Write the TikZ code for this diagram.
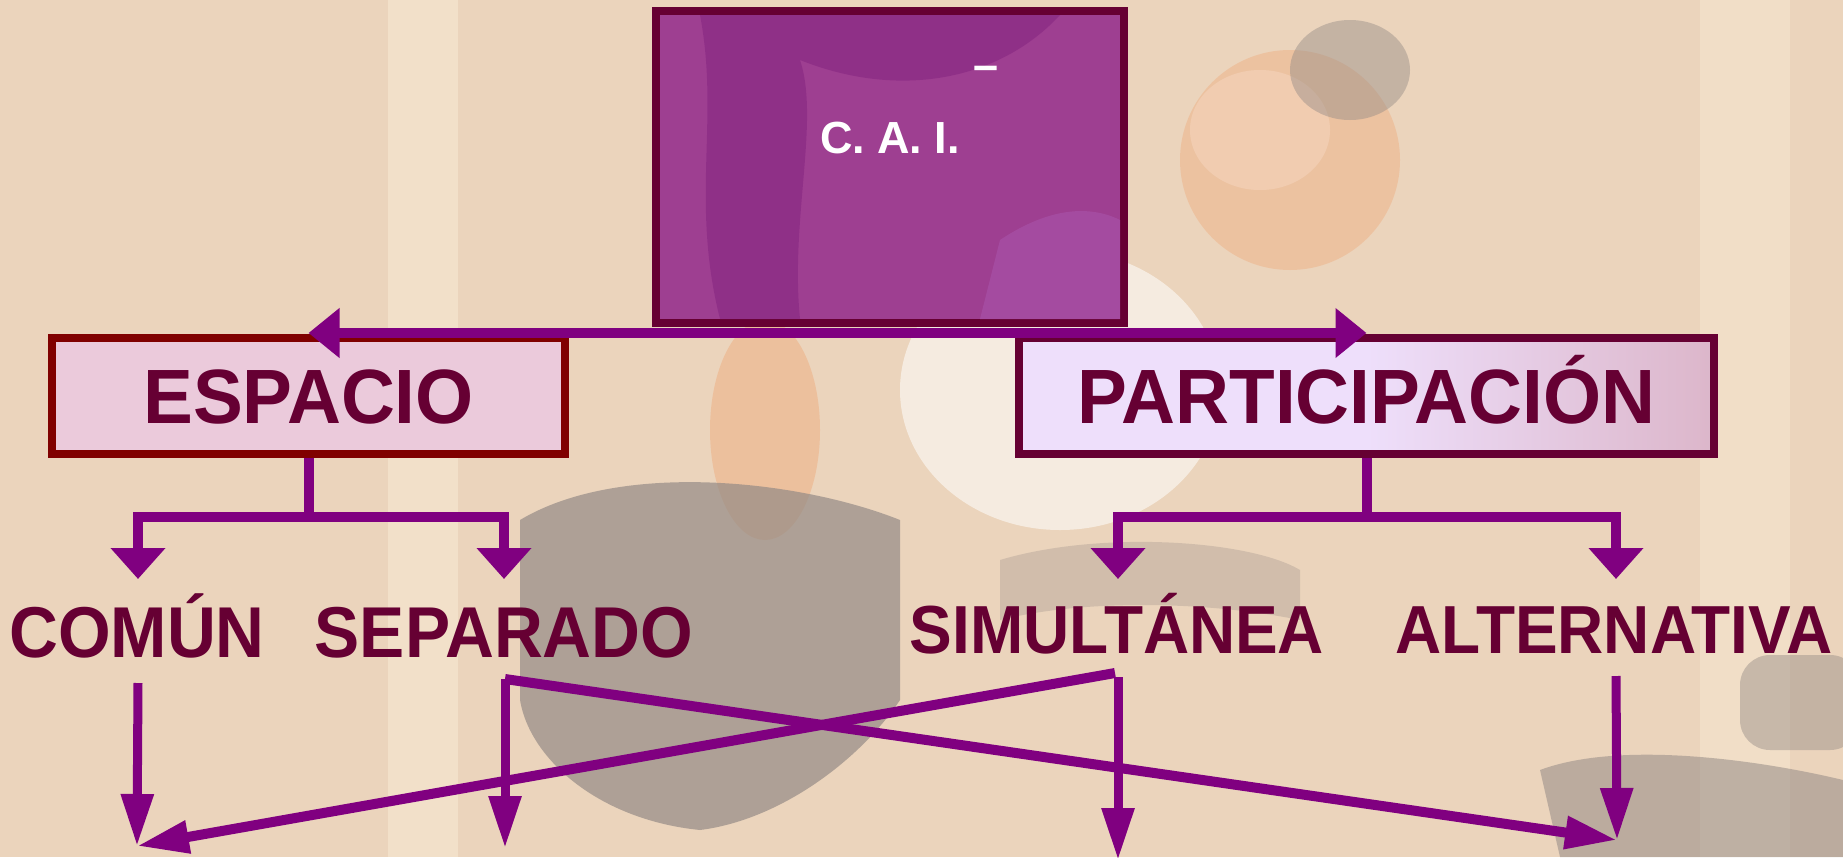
\documentclass[tikz,border=0pt]{standalone}
\usepackage{fontspec}
\setmainfont{Liberation Sans}
\newfontfamily\lab{Liberation Sans}[FakeStretch=0.94]
\newfontfamily\labb{Liberation Sans}[FakeStretch=0.97]
\usetikzlibrary{arrows.meta}
\definecolor{bgbase}{HTML}{EBD4BC}
\definecolor{bglight}{HTML}{F7E8D2}
\definecolor{bggray}{HTML}{958B86}
\definecolor{bgorange}{HTML}{EFA878}
\definecolor{topfill}{HTML}{9E3F91}
\definecolor{topdark}{HTML}{8A2A84}
\definecolor{toplight}{HTML}{A64FA4}
\definecolor{darkborder}{HTML}{660033}
\definecolor{redborder}{HTML}{800000}
\definecolor{espfill}{HTML}{EBCADB}
\definecolor{partleft}{HTML}{EEDFFB}
\definecolor{partright}{HTML}{DCB6CA}
\definecolor{txt}{HTML}{660033}
\definecolor{conncol}{HTML}{800080}
\begin{document}
\begin{tikzpicture}[x=1pt,y=-1pt,
  boxnode/.style={line width=8pt, minimum height=116pt, inner sep=0pt, text=txt,
    font=\labb\bfseries\fontsize{77}{82}\selectfont, text height=55pt, text depth=0pt},
  labnode/.style={anchor=base, text=txt, inner sep=0pt,
    font=\lab\bfseries\fontsize{72}{78}\selectfont},
  labnoder/.style={anchor=base, text=txt, inner sep=0pt,
    font=\lab\bfseries\fontsize{68}{74}\selectfont},
  conn/.style={draw=conncol, line width=10pt},
  treetip/.style={-{Triangle[length=31pt,width=53pt]}},
  toptip/.style={-{Triangle[length=31pt,width=48pt]}},
  lowarrow/.style={draw=conncol, line width=9pt, -{Triangle[length=52pt,width=31pt]}},
  crossarrow/.style={draw=conncol, line width=10pt, -{Triangle[length=52pt,width=31pt]}}
]
\useasboundingbox (0,0) rectangle (1843,857);
\clip (0,0) rectangle (1843,857);
% background
\fill[bgbase] (0,0) rectangle (1843,857);
\fill[bglight, opacity=0.6] (388,0) rectangle (458,857);
\fill[bglight, opacity=0.5] (1700,0) rectangle (1790,857);
\fill[white, opacity=0.55] (1060,390) ellipse (160 and 140);
\fill[white, opacity=0.4] (1260,130) ellipse (70 and 60);
\fill[bgorange, opacity=0.4] (1290,160) ellipse (110 and 110);
\fill[bggray, opacity=0.45] (1350,70) ellipse (60 and 50);
\fill[bgorange, opacity=0.45] (765,430) ellipse (55 and 110);
\fill[bggray, opacity=0.7] (520,520) .. controls (620,460) and (800,480) .. (900,520)
  -- (900,700) .. controls (860,760) and (780,820) .. (700,830)
  .. controls (600,820) and (530,760) .. (520,700) -- cycle;
\fill[bggray, opacity=0.55] (1540,770) .. controls (1620,740) and (1760,760) .. (1843,780)
  -- (1843,857) -- (1560,857) -- cycle;
\fill[bggray, opacity=0.45, rounded corners=30pt] (1740,655) rectangle (1860,750);
\fill[bggray, opacity=0.3] (1000,560) .. controls (1100,530) and (1250,540) .. (1300,570)
  -- (1300,620) .. controls (1200,600) and (1080,600) .. (1000,620) -- cycle;

% boxes
\node[boxnode, draw=redborder, fill=espfill, minimum width=513pt] (esp) at (308.5,396) {ESPACIO};
\node[boxnode, draw=darkborder, left color=partleft, right color=partright, middle color=partleft,
  minimum width=695pt] (part) at (1366.5,396) {PARTICIPACIÓN};

% top connector
\coordinate (tj) at (890,333);
\draw[conn, toptip] (tj) -- (tj -| esp.north);
\draw[conn, toptip] (tj) -- (tj -| part.north);

% top box
\node[draw=darkborder, line width=8pt, fill=topfill, minimum width=468pt, minimum height=312pt,
  inner sep=0pt] (top) at (890,167) {};
\begin{scope}
  \clip (660,15) rectangle (1120,319);
  \fill[topdark, opacity=0.7] (700,15) .. controls (720,120) and (690,200) .. (720,319)
    -- (800,319) .. controls (790,220) and (820,120) .. (800,60)
    .. controls (900,100) and (1000,80) .. (1060,15) -- cycle;
  \fill[toplight, opacity=0.8] (1000,240) .. controls (1060,200) and (1100,210) .. (1120,220)
    -- (1120,319) -- (980,319) -- cycle;
\end{scope}
\node[text=white, font=\bfseries\fontsize{45}{50}\selectfont, anchor=base, inner sep=0pt]
  (cai) at (890,153) {C. A. I.};
\node[text=white, font=\bfseries\fontsize{45}{50}\selectfont, inner sep=0pt]
  (dash) at (986,73) {–};

% labels
\node[labnode] (comun) at (137,657) {COMÚN};
\node[labnode] (sep) at (504,657) {SEPARADO};
\node[labnoder] (sim) at (1117,653) {SIMULTÁNEA};
\node[labnoder] (alt) at (1614,653) {ALTERNATIVA};

% tree connectors
\coordinate (ej) at (308.5,517);
\coordinate (ca) at (138,579);
\coordinate (sa) at (504,579);
\draw[conn] (esp.south) -- (ej);
\draw[conn, treetip] (ej) -| (ca);
\draw[conn, treetip] (ej) -| (sa);

\coordinate (pj) at (1366.5,517);
\coordinate (ma) at (1118,579);
\coordinate (la) at (1616,579);
\draw[conn] (part.south) -- (pj);
\draw[conn, treetip] (pj) -| (ma);
\draw[conn, treetip] (pj) -| (la);

% lower arrows
\coordinate (s1) at (138,683);
\coordinate (e1) at (137,846);
\coordinate (s2) at (505,679);
\coordinate (e2) at (505,848);
\coordinate (s3) at (1118,677);
\coordinate (e3) at (1118,860);
\coordinate (s4) at (1616,676);
\coordinate (e4) at (1617,840);
\coordinate (d1) at (1115,673);
\coordinate (d2) at (505,679);
\draw[lowarrow] (s1) -- (e1);
\draw[lowarrow] (s2) -- (e2);
\draw[lowarrow] (s3) -- (e3);
\draw[lowarrow] (s4) -- (e4);
\draw[crossarrow] (d1) -- (e1);
\draw[crossarrow] (d2) -- (e4);
\end{tikzpicture}
\end{document}
